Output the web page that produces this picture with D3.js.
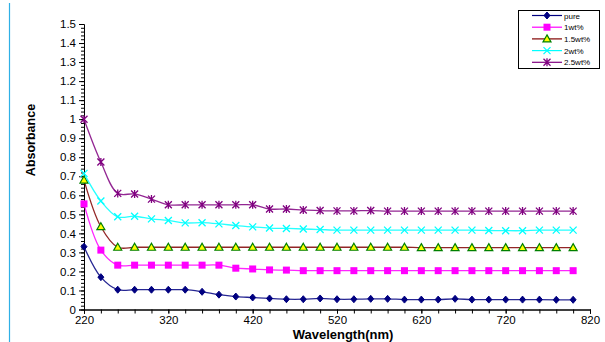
<!DOCTYPE html>
<html>
<head>
<meta charset="utf-8">
<script src="https://cdn.jsdelivr.net/npm/d3@7"></script>
<style>
  body { margin: 0; background: #fff; }
  svg { font-family: Arial, "Liberation Sans", sans-serif; }
</style>
</head>
<body>
<div id="chart"></div>
<script>
const wavelengths = d3.range(220, 801, 20);

const pure = [0.33, 0.17, 0.104, 0.104, 0.104, 0.104, 0.104, 0.093, 0.078, 0.068, 0.063, 0.058, 0.054, 0.054, 0.058, 0.054,
  0.054, 0.056, 0.056, 0.052, 0.052, 0.052, 0.056, 0.052, 0.052, 0.052, 0.052, 0.052, 0.051, 0.051];
const wt1 = [0.555, 0.312, 0.233, 0.233, 0.233, 0.233, 0.233, 0.233, 0.233, 0.217, 0.213, 0.208, 0.207, 0.204, 0.204, 0.204,
  0.204, 0.204, 0.204, 0.204, 0.204, 0.204, 0.204, 0.204, 0.204, 0.204, 0.204, 0.204, 0.204, 0.204];
const wt15 = [0.68, 0.435, 0.327, 0.327, 0.327, 0.327, 0.327, 0.327, 0.327, 0.327, 0.327, 0.327, 0.327, 0.327, 0.327, 0.327,
  0.327, 0.327, 0.327, 0.327, 0.325, 0.325, 0.325, 0.325, 0.325, 0.325, 0.325, 0.325, 0.325, 0.325];
const wt2 = [0.715, 0.57, 0.487, 0.49, 0.476, 0.468, 0.455, 0.456, 0.45, 0.441, 0.434, 0.428, 0.426, 0.423, 0.42, 0.417,
  0.417, 0.417, 0.417, 0.417, 0.417, 0.417, 0.417, 0.417, 0.415, 0.414, 0.414, 0.417, 0.417, 0.417];
const wt25 = [1.0, 0.775, 0.61, 0.607, 0.58, 0.55, 0.55, 0.55, 0.55, 0.55, 0.55, 0.528, 0.528, 0.523, 0.52, 0.518,
  0.518, 0.52, 0.517, 0.517, 0.517, 0.517, 0.517, 0.517, 0.517, 0.517, 0.517, 0.517, 0.517, 0.517];

const yTicks = d3.range(0, 1.51, 0.1);
const xTicks = [220, 320, 420, 520, 620, 720, 820];

const series = [
  { name: "pure", values: pure, line: "#000080", marker: "diamond", fill: "#000080", stroke: "#000080" },
  { name: "1wt%", values: wt1, line: "#ff00ff", marker: "square", fill: "#ff00ff", stroke: "#ff00ff" },
  { name: "1.5wt%", values: wt15, line: "#800000", marker: "triangle", fill: "#ffff00", stroke: "#008000" },
  { name: "2wt%", values: wt2, line: "#00ffff", marker: "x", fill: "none", stroke: "#00ffff" },
  { name: "2.5wt%", values: wt25, line: "#800080", marker: "star", fill: "none", stroke: "#800080" }
];

const W = 605, H = 342;
const x = d3.scaleLinear().domain([220, 820]).range([84, 590]);
const y = d3.scaleLinear().domain([0, 1.5]).range([309.5, 24]);

const svg = d3.select("#chart").append("svg")
  .attr("width", W)
  .attr("height", H);

// light blue page rule on the left
svg.append("line")
  .attr("x1", 9.5).attr("x2", 9.5)
  .attr("y1", 3).attr("y2", H)
  .attr("stroke", "#2fb0e6")
  .attr("stroke-width", 1.2);

// y axis with minor ticks
const yAxis = svg.append("g").attr("transform", `translate(${x(220)},0)`);
yAxis.append("g")
  .call(d3.axisLeft(y).tickValues(d3.range(0, 1.501, 0.02)).tickSize(3).tickFormat(""))
  .call(g => g.select(".domain").remove());
yAxis.append("g")
  .call(d3.axisLeft(y).tickValues(yTicks).tickSize(5).tickPadding(3).tickFormat(d3.format("~g")))
  .call(g => g.selectAll("text").attr("font-size", 11.5).attr("fill", "#000"));
yAxis.selectAll("line, path").attr("stroke", "#000");

// x axis
const xAxis = svg.append("g").attr("transform", `translate(0,${y(0)})`);
xAxis.append("g")
  .call(d3.axisBottom(x).tickValues(d3.range(220, 821, 20)).tickSize(4).tickFormat(""));
xAxis.append("g")
  .call(d3.axisBottom(x).tickValues(xTicks).tickSize(4).tickPadding(2).tickFormat(d3.format("d")))
  .call(g => g.selectAll("text").attr("font-size", 11.5).attr("fill", "#000"));
xAxis.selectAll("line, path").attr("stroke", "#000");

// axis titles
svg.append("text")
  .attr("x", 343)
  .attr("y", 338.5)
  .attr("text-anchor", "middle")
  .attr("font-size", 13)
  .attr("font-weight", "bold")
  .text("Wavelength(nm)");

svg.append("text")
  .attr("transform", "translate(35,140) rotate(-90)")
  .attr("text-anchor", "middle")
  .attr("font-size", 12.5)
  .attr("font-weight", "bold")
  .text("Absorbance");

function drawMarker(g, type, cx, cy, s) {
  if (type === "diamond") {
    g.append("path").attr("d", `M${cx},${cy - 3.5}L${cx + 3},${cy}L${cx},${cy + 3.5}L${cx - 3},${cy}Z`)
      .attr("fill", s.fill).attr("stroke", s.stroke);
  } else if (type === "square") {
    g.append("rect").attr("x", cx - 3.5).attr("y", cy - 3.5).attr("width", 7).attr("height", 7)
      .attr("fill", s.fill);
  } else if (type === "triangle") {
    g.append("path").attr("d", `M${cx},${cy - 4}L${cx + 4},${cy + 3}L${cx - 4},${cy + 3}Z`)
      .attr("fill", s.fill).attr("stroke", s.stroke).attr("stroke-width", 1.2);
  } else if (type === "x") {
    g.append("path").attr("d", `M${cx - 3.5},${cy - 3.5}L${cx + 3.5},${cy + 3.5}M${cx - 3.5},${cy + 3.5}L${cx + 3.5},${cy - 3.5}`)
      .attr("stroke", s.stroke).attr("stroke-width", 1.3);
  } else if (type === "star") {
    g.append("path").attr("d", `M${cx - 3.5},${cy - 3.5}L${cx + 3.5},${cy + 3.5}M${cx - 3.5},${cy + 3.5}L${cx + 3.5},${cy - 3.5}M${cx},${cy - 4}L${cx},${cy + 4}`)
      .attr("stroke", s.stroke).attr("stroke-width", 1.3);
  }
}

const line = d3.line()
  .x((d, i) => x(wavelengths[i]))
  .y(d => y(d))
  .curve(d3.curveCatmullRom.alpha(0.5));

const plot = svg.append("g");
series.forEach(s => {
  plot.append("path")
    .attr("d", line(s.values))
    .attr("fill", "none")
    .attr("stroke", s.line)
    .attr("stroke-width", 1.3)
    .attr("stroke-opacity", 0.85);
  const mg = plot.append("g");
  s.values.forEach((v, i) => drawMarker(mg, s.marker, x(wavelengths[i]), y(v), s));
});

// legend
const legend = svg.append("g");
legend.append("rect")
  .attr("x", 518.5).attr("y", 10.5)
  .attr("width", 81).attr("height", 58)
  .attr("fill", "#fff")
  .attr("stroke", "#000");

series.forEach((s, i) => {
  const ly = 15.5 + i * 11.7;
  legend.append("line")
    .attr("x1", 532).attr("x2", 562)
    .attr("y1", ly).attr("y2", ly)
    .attr("stroke", s.line)
    .attr("stroke-width", 1.2);
  drawMarker(legend, s.marker, 547, ly, s);
  legend.append("text")
    .attr("x", 564)
    .attr("y", ly + 3)
    .attr("font-size", 8)
    .attr("fill", "#000")
    .text(s.name);
});
</script>
</body>
</html>
